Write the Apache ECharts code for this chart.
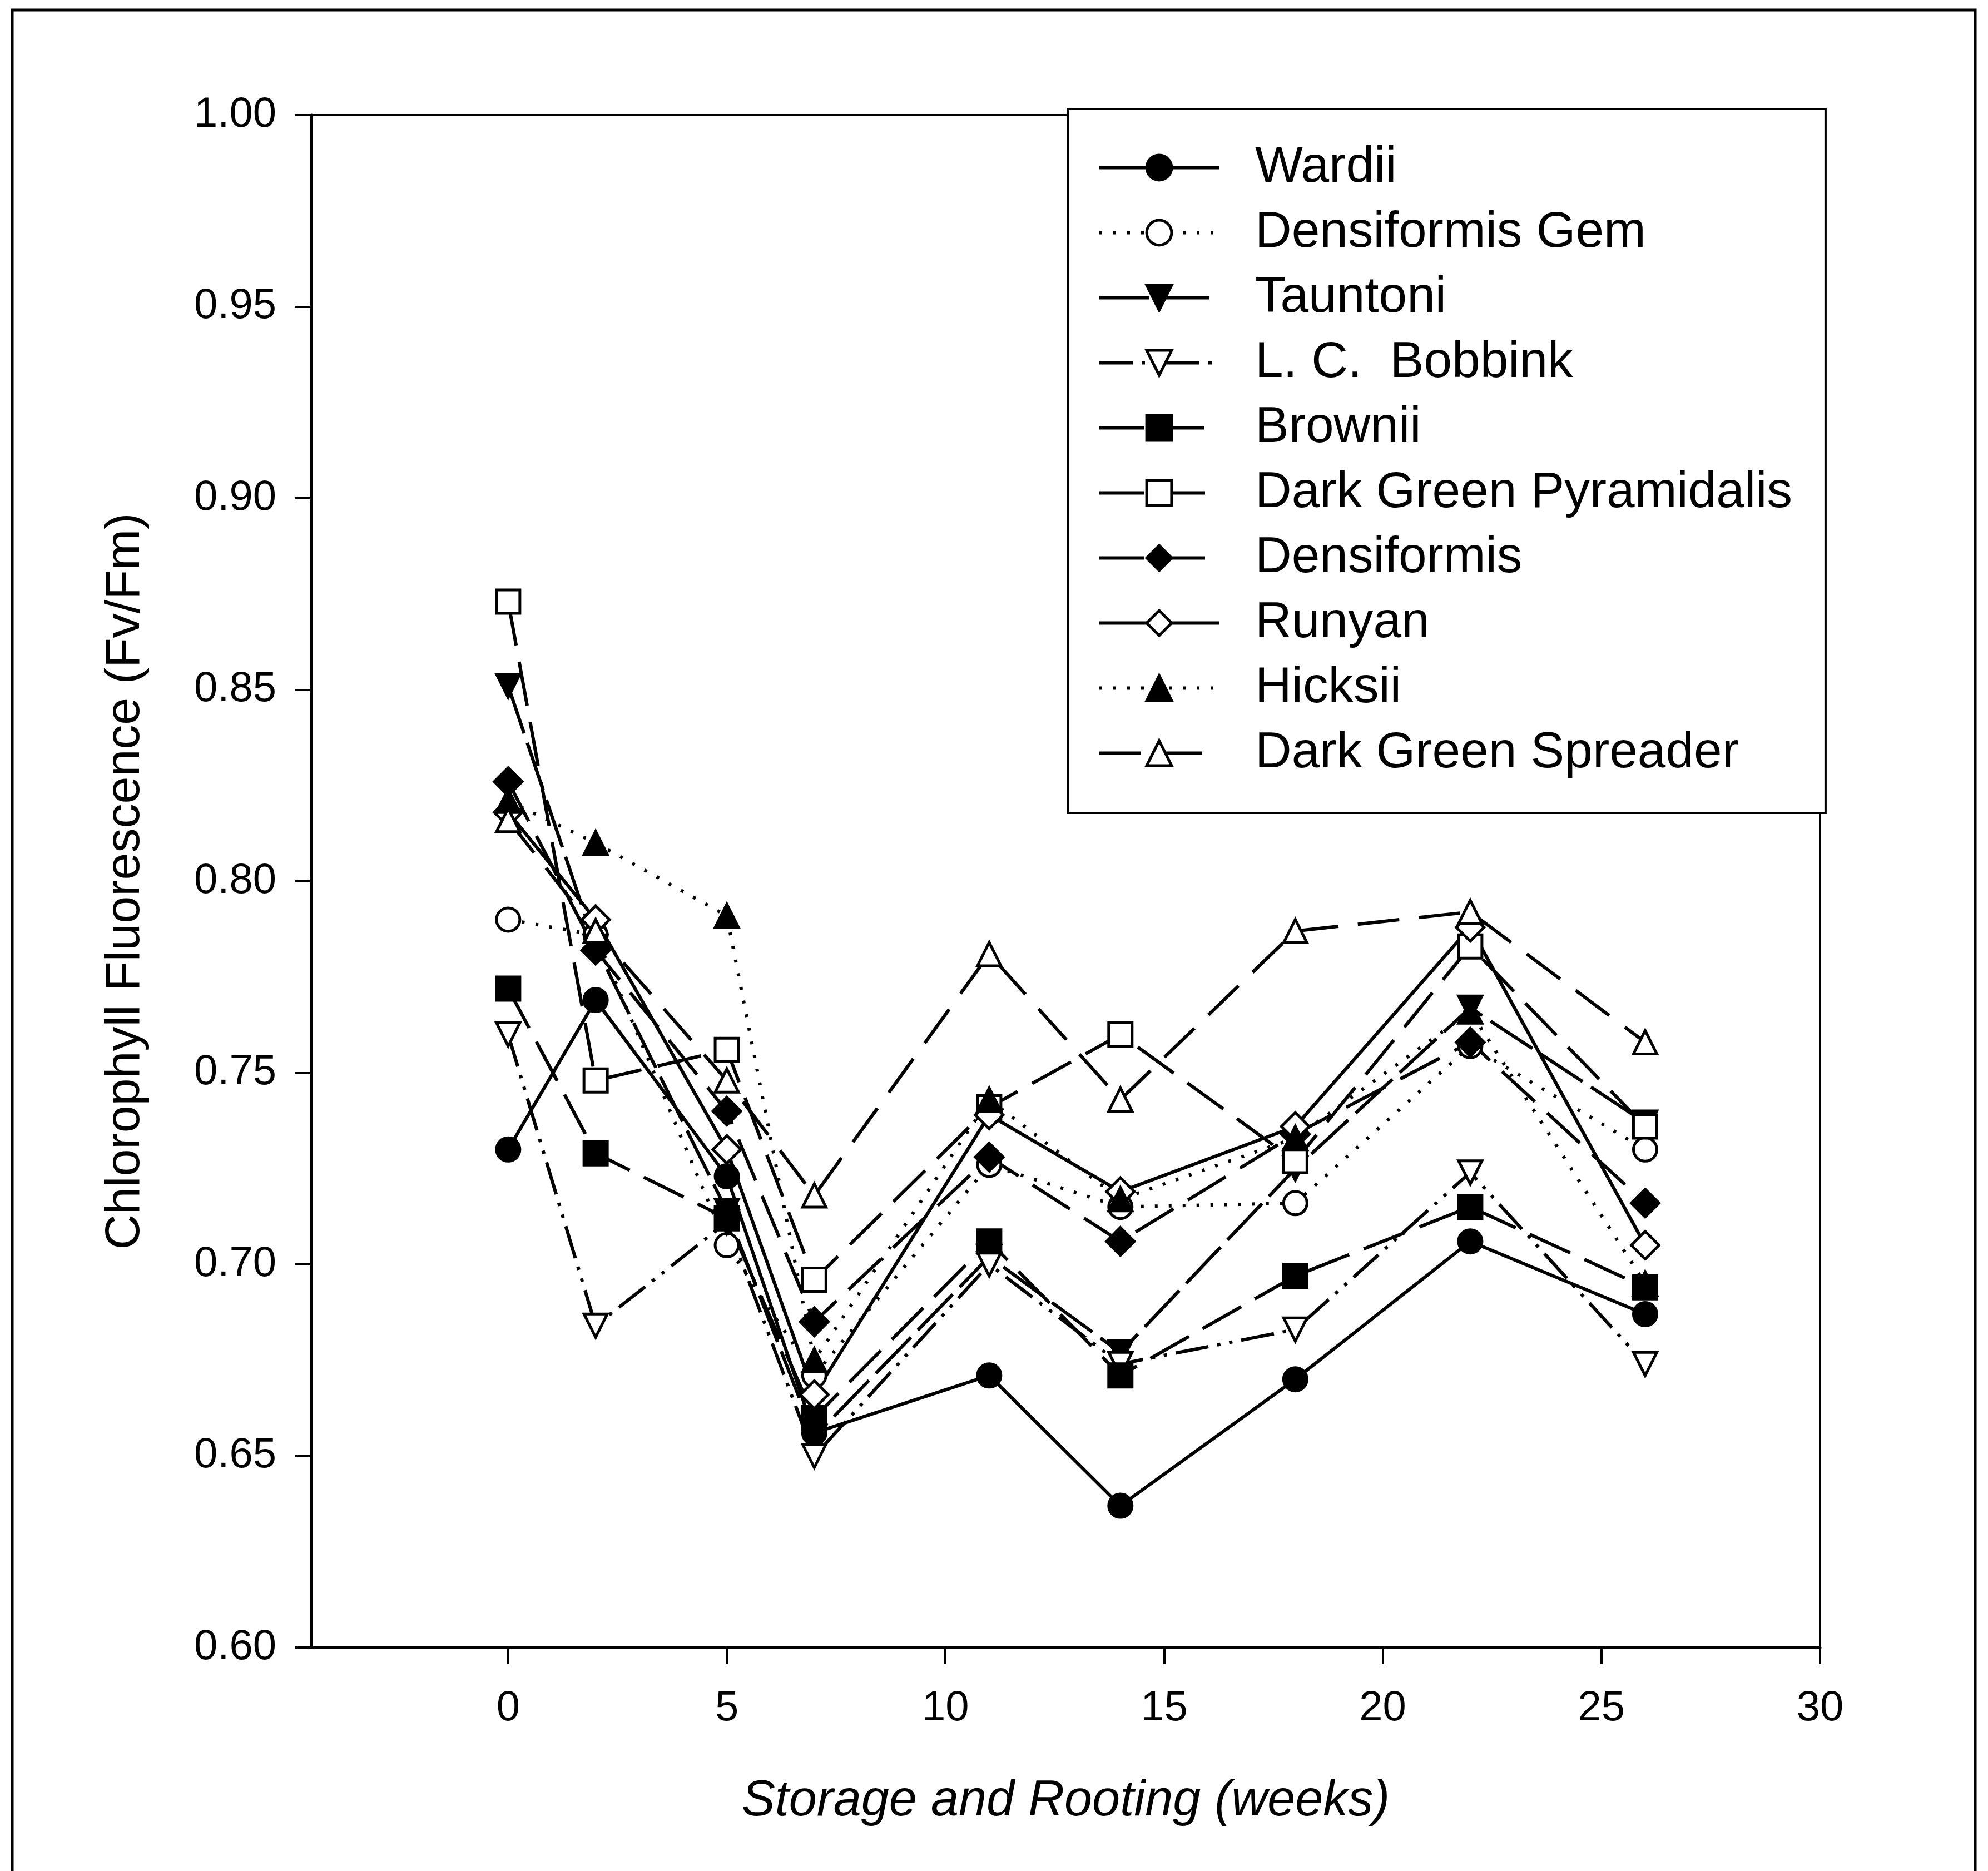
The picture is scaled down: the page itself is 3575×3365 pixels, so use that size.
<!DOCTYPE html>
<html>
<head>
<meta charset="utf-8">
<title>Chlorophyll Fluorescence</title>
<script src="https://cdn.jsdelivr.net/npm/echarts@6/dist/echarts.min.js"></script>
<style>
  html, body { margin: 0; padding: 0; background: #fff; }
  #chart { width: 3575px; height: 3365px; }
</style>
</head>
<body>
<div id="chart"></div>
<script>
// weeks of storage and rooting
const weeks = [0, 2, 5, 7, 11, 14, 18, 22, 26];
const xTicks = [0, 5, 10, 15, 20, 25, 30];

// Fv/Fm values
const wardii = [0.730, 0.769, 0.723, 0.656, 0.671, 0.637, 0.670, 0.706, 0.687];
const densiformisGem = [0.790, 0.786, 0.705, 0.671, 0.726, 0.715, 0.716, 0.757, 0.730];
const tauntoni = [0.851, 0.783, 0.714, 0.655, 0.702, 0.677, 0.725, 0.767, 0.737];
const lcBobbink = [0.760, 0.684, 0.711, 0.650, 0.700, 0.674, 0.683, 0.724, 0.674];
const brownii = [0.772, 0.729, 0.712, 0.660, 0.706, 0.671, 0.697, 0.715, 0.694];
const dgPyramidalis = [0.873, 0.748, 0.756, 0.696, 0.741, 0.760, 0.727, 0.783, 0.736];
const densiformis = [0.826, 0.782, 0.740, 0.685, 0.728, 0.706, 0.734, 0.758, 0.716];
const runyan = [0.818, 0.790, 0.730, 0.666, 0.739, 0.719, 0.736, 0.788, 0.705];
const hicksii = [0.821, 0.810, 0.791, 0.675, 0.743, 0.717, 0.733, 0.766, 0.695];
const dgSpreader = [0.816, 0.787, 0.748, 0.718, 0.781, 0.743, 0.787, 0.792, 0.758];

const FONT = "'Liberation Sans', Arial, sans-serif";

// name, values, symbol, filled, rotate, dash
const seriesDefs = [
    ["Wardii", wardii, "circle", true, 0, "solid"],
    ["Densiformis Gem", densiformisGem, "circle", false, 0, [5, 20]],
    ["Tauntoni", tauntoni, "triangle", true, 180, [90, 18]],
    ["L. C.  Bobbink", lcBobbink, "triangle", false, 180, [60, 16, 6, 16, 6, 16]],
    ["Brownii", brownii, "rect", true, 0, [80, 28]],
    ["Dark Green Pyramidalis", dgPyramidalis, "rect", false, 0, [80, 30]],
    ["Densiformis", densiformis, "diamond", true, 0, [80, 30]],
    ["Runyan", runyan, "diamond", false, 0, "solid"],
    ["Hicksii", hicksii, "triangle", true, 0, [5, 20]],
    ["Dark Green Spreader", dgSpreader, "triangle", false, 0, [75, 35]],
];

const chart = echarts.init(document.getElementById("chart"));

const series = seriesDefs.map(([name, vals, symbol, filled, rotate, dash]) => ({
    name: name,
    type: "line",
    data: weeks.map((w, i) => [w, vals[i]]),
    symbol: symbol,
    symbolSize: symbol === "diamond" ? 50 : 42,
    symbolRotate: rotate,
    showAllSymbol: true,
    animation: false,
    lineStyle: { color: "#000", width: 6, type: dash },
    itemStyle: {
        color: filled ? "#000" : "#fff",
        borderColor: "#000",
        borderWidth: 5,
    },
    emphasis: { disabled: true },
}));

const option = {
    backgroundColor: "#ffffff",
    animation: false,
    grid: {
        left: 560,
        top: 207,
        right: 302,
        bottom: 402,
        show: true,
        borderColor: "#000",
        borderWidth: 4,
    },
    xAxis: {
        type: "value",
        min: -4.5,
        max: 30,
        name: "Storage and Rooting (weeks)",
        nameLocation: "middle",
        nameGap: 232,
        nameTextStyle: { fontFamily: FONT, fontSize: 90, fontStyle: "italic", color: "#000" },
        axisLine: { onZero: false, lineStyle: { color: "#000", width: 5 } },
        axisTick: { show: true, length: 30, customValues: xTicks, lineStyle: { color: "#000", width: 4 } },
        axisLabel: {
            customValues: xTicks,
            margin: 72,
            fontFamily: FONT,
            fontSize: 76,
            color: "#000",
        },
        splitLine: { show: false },
    },
    yAxis: {
        type: "value",
        min: 0.6,
        max: 1.0,
        interval: 0.05,
        name: "Chlorophyll Fluorescence (Fv/Fm)",
        nameLocation: "middle",
        nameGap: 290,
        nameRotate: 90,
        nameTextStyle: { fontFamily: FONT, fontSize: 88, color: "#000" },
        axisLine: { show: true, onZero: false, lineStyle: { color: "#000", width: 5 } },
        axisTick: { show: true, length: 30, lineStyle: { color: "#000", width: 4 } },
        axisLabel: {
            margin: 63,
            fontFamily: FONT,
            fontSize: 76,
            color: "#000",
            formatter: (v) => v.toFixed(2),
        },
        splitLine: { show: false },
    },
    legend: {
        orient: "vertical",
        left: 1920,
        top: 196,
        padding: [60, 60, 62, 54],
        itemWidth: 215,
        itemHeight: 56,
        itemGap: 26,
        backgroundColor: "#fff",
        borderColor: "#000",
        borderWidth: 4,
        lineStyle: { width: 6 },
        itemStyle: { borderWidth: 5 },
        textStyle: { fontFamily: FONT, fontSize: 91, color: "#000", padding: [0, 0, 0, 60] },
        data: seriesDefs.map((d) => d[0]),
    },
    graphic: [
        {
            // outer frame of the scanned figure
            type: "rect",
            shape: { x: 22, y: 18, width: 3530, height: 3420 },
            style: { fill: null, stroke: "#000", lineWidth: 5 },
            silent: true,
        },
    ],
    series: series,
};

chart.setOption(option);
</script>
</body>
</html>
